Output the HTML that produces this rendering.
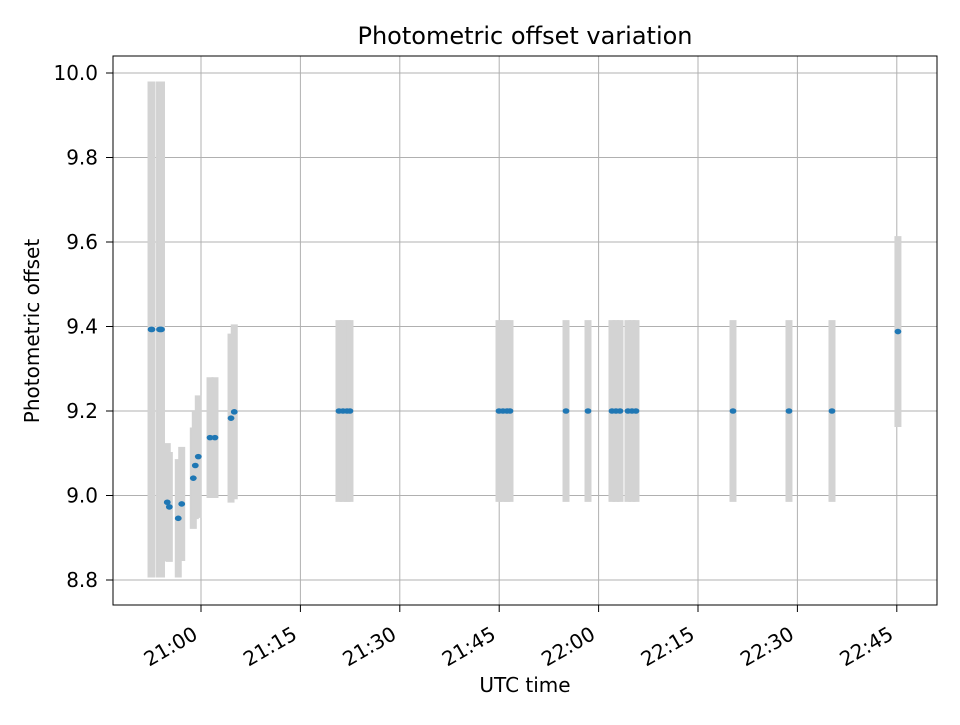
<!DOCTYPE html>
<html><head><meta charset="utf-8"><style>
body{margin:0;background:#fff;}
svg text{font-family:"DejaVu Sans","Liberation Sans",sans-serif;fill:#000;}
</style></head><body>
<svg id="chart" width="960" height="720" viewBox="0 0 960 720" xmlns="http://www.w3.org/2000/svg">
<rect width="960" height="720" fill="#fff"/>
<g id="grid"></g>
<g id="errs"></g>
<g id="pts"></g>
<rect x="113" y="56" width="824" height="549" fill="none" stroke="#000" stroke-width="1"/>
<g id="axes"></g>
<text x="525" y="44" font-size="24" text-anchor="middle">Photometric offset variation</text>
<text x="525" y="692" font-size="20" text-anchor="middle">UTC time</text>
<text x="39" y="331" font-size="20" text-anchor="middle" transform="rotate(-90 39 331)">Photometric offset</text>
</svg>
<script>
// minutes relative to 21:00 UTC
const timesMin = [-7.54,-7.39,-6.26,-6.11,-5.96,-5.09,-4.78,-3.43,-2.91,-1.16,-0.86,-0.41,1.36,2.11,4.53,5.02,
20.82,21.43,22.03,22.48,44.97,45.57,46.17,46.63,55.08,58.40,62.02,62.62,63.23,64.43,65.04,65.64,80.28,88.73,95.22,105.17];
const offsets = [9.393,9.393,9.393,9.393,9.393,8.984,8.973,8.946,8.98,9.041,9.071,9.092,9.137,9.137,9.183,9.198,
9.2,9.2,9.2,9.2,9.2,9.2,9.2,9.2,9.2,9.2,9.2,9.2,9.2,9.2,9.2,9.2,9.2,9.2,9.2,9.388];
const offsetErr = [0.587,0.587,0.587,0.587,0.587,0.14,0.13,0.14,0.135,0.12,0.127,0.145,0.143,0.143,0.2,0.207,
0.215,0.215,0.215,0.215,0.215,0.215,0.215,0.215,0.215,0.215,0.215,0.215,0.215,0.215,0.215,0.215,0.215,0.215,0.215,0.226];
const yTicks = [8.8,9.0,9.2,9.4,9.6,9.8,10.0];
const xTicks = [0,15,30,45,60,75,90,105];
const xTickLabels = ["21:00","21:15","21:30","21:45","22:00","22:15","22:30","22:45"];

const NS="http://www.w3.org/2000/svg";
const X = m => 201 + m*99.4/15;
const Y = v => 73 + (10.0 - v)*422.5;
function mk(tag, attrs, parent){const e=document.createElementNS(NS,tag);for(const k in attrs)e.setAttribute(k,attrs[k]);parent.appendChild(e);return e;}
const grid=document.getElementById('grid'), axes=document.getElementById('axes'), errs=document.getElementById('errs'), pts=document.getElementById('pts');
yTicks.forEach(v=>{
  const y=Y(v);
  const gl=mk('line',{x1:113,x2:937,y1:y,y2:y,stroke:'#b0b0b0','stroke-width':1},grid);
  
  
  mk('line',{x1:106,x2:113,y1:y,y2:y,stroke:'#000'},axes);
  const t=mk('text',{x:98,y:y+7,'font-size':20,'text-anchor':'end'},axes);
  t.textContent=v.toFixed(1);
  
  
});
xTicks.forEach((m,i)=>{
  const x=X(m);
  const gl=mk('line',{x1:x,x2:x,y1:56,y2:605,stroke:'#b0b0b0','stroke-width':1},grid);
  
  
  mk('line',{x1:x,x2:x,y1:605,y2:612,stroke:'#000'},axes);
  const ax=x-2, ay=638;
  const t=mk('text',{x:ax,y:ay,'font-size':20,'text-anchor':'end',transform:`rotate(-30 ${ax} ${ay})`},axes);
  t.textContent=xTickLabels[i];
  
  
});
timesMin.forEach((m,i)=>{
  const x=X(m);
  const e=mk('line',{x1:x,x2:x,y1:Y(offsets[i]+offsetErr[i]),y2:Y(offsets[i]-offsetErr[i]),stroke:'#d3d3d3','stroke-width':7},errs);
  
  
  const p=mk('ellipse',{cx:x,cy:Y(offsets[i]),rx:3.4,ry:2.8,fill:'#1f77b4'},pts);
  
  
});
</script>
</body></html>
